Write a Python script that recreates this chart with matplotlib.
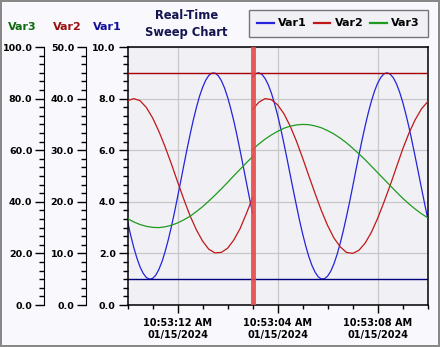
import numpy as np
import matplotlib
matplotlib.use('Agg')
import matplotlib.pyplot as plt
from matplotlib.ticker import MultipleLocator, FormatStrFormatter

plt.rcParams['font.weight'] = 'bold'

# sweep window: 12 s, cursor at 5 s (left = new sweep, right = old sweep)
t_new = np.arange(0, 5.001, 0.25)
t_old = np.arange(5, 12.001, 0.25)
t1_new = np.arange(0, 5.001, 0.125)
t1_old = np.arange(5, 12.001, 0.125)

var1_new = [3.24, 2.71, 2.23, 1.82, 1.48, 1.23, 1.07, 1.00, 1.03, 1.15, 1.37,
            1.67, 2.06, 2.51, 3.02, 3.58, 4.18, 4.79, 5.41, 6.02, 6.60, 7.15,
            7.64, 8.08, 8.43, 8.71, 8.90, 8.99, 8.99, 8.89, 8.70, 8.42, 8.06,
            7.62, 7.13, 6.58, 5.99, 5.38, 4.76, 4.15, 3.56]
var1_old = [8.84, 8.97, 9.00, 8.94, 8.78, 8.54, 8.22, 7.82, 7.36, 6.84, 6.27,
            5.68, 5.07, 4.46, 3.87, 3.29, 2.76, 2.29, 1.87, 1.53, 1.27, 1.09,
            1.01, 1.02, 1.12, 1.31, 1.59, 1.95, 2.38, 2.87, 3.41, 3.98, 4.58,
            5.20, 5.80, 6.39, 6.94, 7.45, 7.90, 8.29, 8.60, 8.82, 8.96, 9.00,
            8.95, 8.81, 8.58, 8.26, 7.87, 7.41, 6.90, 6.34, 5.75, 5.15, 4.54,
            3.94, 3.36]

var2_new = [39.6, 40.0, 39.6, 38.3, 36.3, 33.7, 30.7, 27.4, 23.9, 20.5, 17.3,
            14.6, 12.4, 10.8, 10.1, 10.2, 11.0, 12.6, 14.8, 17.7, 20.8]
var2_old = [37.9, 39.3, 40.0, 39.8, 38.8, 37.1, 34.7, 31.8, 28.5, 25.0, 21.6,
            18.3, 15.4, 13.0, 11.3, 10.2, 10.0, 10.6, 12.0, 14.1, 16.8, 19.9,
            23.2, 26.7, 30.2, 33.3, 35.9, 38.0, 39.4]

var3_new = [33.5, 32.2, 31.2, 30.5, 30.1, 30.0, 30.3, 30.9, 31.8, 33.0, 34.4,
            36.2, 38.1, 40.3, 42.6, 45.0, 47.5, 50.1, 52.6, 55.1, 57.5]
var3_old = [60.3, 62.4, 64.3, 65.9, 67.3, 68.5, 69.3, 69.8, 70.0, 69.9, 69.4,
            68.7, 67.6, 66.3, 64.7, 62.9, 60.8, 58.6, 56.3, 53.8, 51.3, 48.8,
            46.3, 43.8, 41.4, 39.2, 37.2, 35.4, 33.8]

cursor_t = 5.0
var1_low = 1.0
var2_high = 45.0

xtick_pos = [2, 6, 10]
xtick_labels = ['10:53:12 AM\n01/15/2024', '10:53:04 AM\n01/15/2024',
                '10:53:08 AM\n01/15/2024']

c1, c2, c3 = '#2424dc', '#c01818', '#1f9a1f'
bg = '#f8f8fd'
plotbg = '#f0f0f5'

fig = plt.figure(figsize=(4.4, 3.47), dpi=100, facecolor=bg,
                 edgecolor='#888888', linewidth=1.5)
ax1 = fig.add_axes([0.2898, 0.121, 0.6822, 0.7435])
ax1.set_facecolor(plotbg)
ax2 = ax1.twinx()
ax3 = ax1.twinx()


def style_y(ax, top, major, offset):
    ax.set_ylim(0, top)
    ax.yaxis.set_major_locator(MultipleLocator(major))
    ax.yaxis.set_minor_locator(MultipleLocator(major / 6))
    ax.yaxis.set_major_formatter(FormatStrFormatter('%.1f'))
    ax.yaxis.set_ticks_position('left')
    ax.yaxis.set_label_position('left')
    ax.tick_params(axis='y', which='major', length=6.7, width=1, pad=1.8,
                   labelsize=6.8)
    ax.tick_params(axis='y', which='minor', length=3.6, width=1)
    if offset:
        for s in ['top', 'right', 'bottom']:
            ax.spines[s].set_visible(False)
        ax.spines['left'].set_position(('outward', offset))
        ax.patch.set_visible(False)


style_y(ax1, 10, 2, 0)
style_y(ax2, 50, 10, 30)
style_y(ax3, 100, 20, 60)

ax1.set_xlim(0, 12)
ax1.set_xticks(xtick_pos)
ax1.set_xticklabels(xtick_labels, fontsize=7, fontweight='bold')
ax1.xaxis.set_minor_locator(MultipleLocator(1))
ax1.tick_params(axis='x', which='major', length=6, width=1, pad=3.5)
ax1.tick_params(axis='x', which='minor', length=3, width=1)
ax1.grid(True, which='major', color='#c8c8c8', lw=0.9)
ax1.set_axisbelow(True)
for s in ax1.spines.values():
    s.set_linewidth(1.1)

l1, = ax1.plot(t1_new, var1_new, color=c1, lw=0.9, label='Var1')
ax1.plot(t1_old, var1_old, color=c1, lw=0.9)
ax1.axhline(var1_low, color='#00007a', lw=1)

l2, = ax2.plot(t_new, var2_new, color=c2, lw=0.9, label='Var2')
ax2.plot(t_old, var2_old, color=c2, lw=0.9)
ax2.axhline(var2_high, color='#a80000', lw=1)

l3, = ax3.plot(t_new, var3_new, color=c3, lw=0.9, label='Var3')
ax3.plot(t_old, var3_old, color=c3, lw=0.9)
ax3.axvline(cursor_t, color='#e84848', lw=3.5, alpha=0.9)

fig.text(0.05, 0.921, 'Var3', color='#106a10', fontsize=8, fontweight='bold',
         ha='center', va='center')
fig.text(0.152, 0.921, 'Var2', color='#9a1010', fontsize=8, fontweight='bold',
         ha='center', va='center')
fig.text(0.245, 0.921, 'Var1', color='#10109a', fontsize=8, fontweight='bold',
         ha='center', va='center')
fig.text(0.424, 0.931, 'Real-Time\nSweep Chart', color='#141450', fontsize=8.3,
         fontweight='bold', ha='center', va='center', linespacing=1.4)

leg = ax1.legend(handles=[l1, l2, l3], loc='upper right',
                 bbox_to_anchor=(0.9735, 0.971), bbox_transform=fig.transFigure,
                 ncol=3, fancybox=False, borderaxespad=0, handlelength=1.5,
                 columnspacing=0.6, handletextpad=0.4, borderpad=0.75,
                 prop={'size': 8, 'weight': 'bold'})
leg.get_frame().set_facecolor(plotbg)
leg.get_frame().set_edgecolor('#777777')
leg.get_frame().set_alpha(1)
leg.set_zorder(10)
for ln in leg.get_lines():
    ln.set_linewidth(1.6)

fig.savefig('out.png', dpi=100, facecolor=fig.get_facecolor(),
            edgecolor=fig.get_edgecolor())
